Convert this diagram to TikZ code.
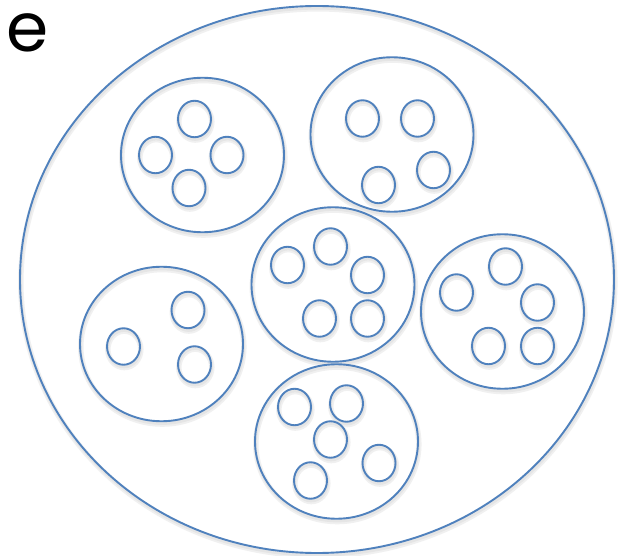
\documentclass[tikz,border=0pt]{standalone}
\usepackage{fontspec}
\setmainfont{Poppins}
\usetikzlibrary{shapes.geometric}
\definecolor{cblue}{HTML}{4F81BD}
\begin{document}
\begin{tikzpicture}[x=1pt,y=-1pt,
  ring/.style={ellipse, draw=cblue, line width=1.9pt, inner sep=0pt,
    preaction={draw=black!6, line width=5.5pt, transform canvas={shift={(0.8pt,-2.8pt)}}},
    preaction={draw=black!10, line width=2.8pt, transform canvas={shift={(0.6pt,-2.2pt)}}}},
  bigring/.style={ring, minimum width=594pt, minimum height=547pt},
  cell/.style={ring, minimum width=163pt, minimum height=154.5pt},
  dot/.style={ring, minimum width=33pt, minimum height=36.5pt},
  lbl/.style={font=\fontsize{68}{68}\selectfont, inner sep=0pt}]
\useasboundingbox (0,0) rectangle (619,556);
\fill[white] (0,0) rectangle (619,556);
\node[lbl] (label) at (27.5,32.5) {e};
\node[bigring] (outer) at (317,279.5) {};
% cells
\node[cell] (c1) at (202.5,155) {};
\node[cell] (c2) at (392,134.5) {};
\node[cell] (c3) at (333,284.5) {};
\node[cell] (c4) at (502.5,311.5) {};
\node[cell] (c5) at (161.5,344) {};
\node[cell] (c6) at (336.5,441.5) {};
% cell 1
\node[dot] (d11) at (194.5,119) {};
\node[dot] (d12) at (155.5,155) {};
\node[dot] (d13) at (227,155) {};
\node[dot] (d14) at (189,188) {};
% cell 2
\node[dot] (d21) at (362.5,118.5) {};
\node[dot] (d22) at (417.5,118.5) {};
\node[dot] (d23) at (433.5,170) {};
\node[dot] (d24) at (378.5,185) {};
% cell 3
\node[dot] (d31) at (287.5,265) {};
\node[dot] (d32) at (330.5,246.5) {};
\node[dot] (d33) at (367.5,275) {};
\node[dot] (d34) at (319.5,318.5) {};
\node[dot] (d35) at (367.5,318.5) {};
% cell 4
\node[dot] (d41) at (456.5,292.5) {};
\node[dot] (d42) at (505.5,266.5) {};
\node[dot] (d43) at (537.5,302.5) {};
\node[dot] (d44) at (488.5,346) {};
\node[dot] (d45) at (537.5,346) {};
% cell 5
\node[dot] (d51) at (188,310) {};
\node[dot] (d52) at (123.5,346.5) {};
\node[dot] (d53) at (194.5,364.5) {};
% cell 6
\node[dot] (d61) at (294.5,407) {};
\node[dot] (d62) at (346.5,403.5) {};
\node[dot] (d63) at (330.5,439.5) {};
\node[dot] (d64) at (379,463) {};
\node[dot] (d65) at (310.5,480.5) {};
\end{tikzpicture}
\end{document}
